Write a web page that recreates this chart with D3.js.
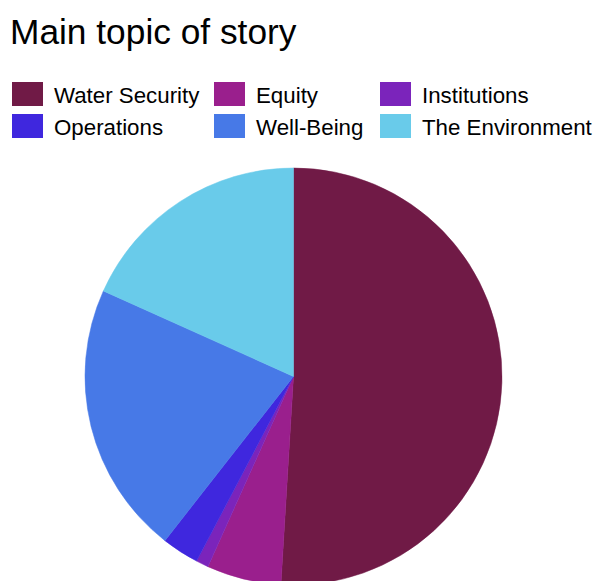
<!DOCTYPE html>
<html>
<head>
<meta charset="utf-8">
<script src="https://cdn.jsdelivr.net/npm/d3@7"></script>
<style>
  html, body { margin: 0; padding: 0; background: #ffffff; }
  svg { display: block; font-family: "Liberation Sans", Arial, sans-serif; }
</style>
</head>
<body>
<svg id="chart" width="594" height="581"></svg>
<script>
// Story counts by main topic
const topics = ["Water Security", "Equity", "Institutions", "Operations", "Well-Being", "The Environment"];
const counts = [53, 6, 1, 3, 22, 19];
const colors = ["#701a46", "#9a1f8d", "#7b24bb", "#3f27de", "#4779e7", "#69cbea"];

const svg = d3.select("#chart");

// Title
svg.append("text")
  .attr("x", 10)
  .attr("y", 44)
  .attr("font-size", 35.3)
  .attr("fill", "#000")
  .text("Main topic of story");

// Legend: three columns, two rows
const colX = [12, 214, 380];
const rowY = [82, 114];
const legend = svg.append("g");
topics.forEach((t, i) => {
  const g = legend.append("g")
    .attr("transform", `translate(${colX[i % 3]},${rowY[Math.floor(i / 3)]})`);
  g.append("rect")
    .attr("width", 31).attr("height", 24)
    .attr("fill", colors[i]);
  g.append("text")
    .attr("x", 42).attr("y", 21)
    .attr("font-size", 22.3)
    .attr("fill", "#000")
    .text(t);
});

// Pie
const color = d3.scaleOrdinal().domain(topics).range(colors);
const pie = d3.pie().sort(null).value(d => d.value);
const arcs = pie(topics.map((t, i) => ({ topic: t, value: counts[i] })));
const radius = 208.5;
const arc = d3.arc().innerRadius(0).outerRadius(radius);

svg.append("g")
  .attr("transform", "translate(293.5,376.5)")
  .selectAll("path")
  .data(arcs)
  .join("path")
  .attr("d", arc)
  .attr("fill", d => color(d.data.topic))
  .attr("stroke", d => color(d.data.topic))
  .attr("stroke-width", 0.5);
</script>
</body>
</html>
